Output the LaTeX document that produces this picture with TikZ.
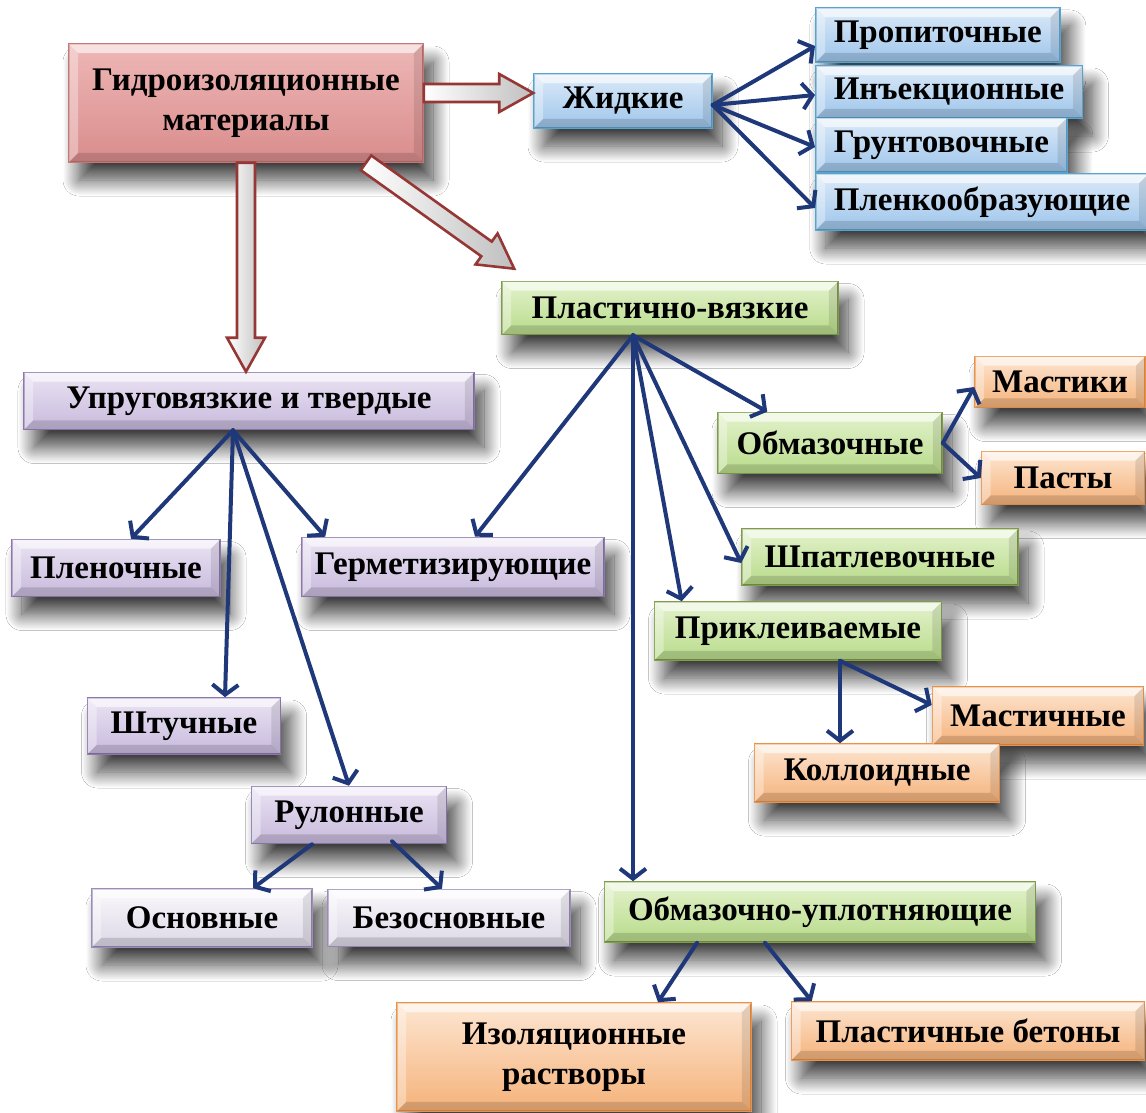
\documentclass[tikz,border=0pt]{standalone}
\usepackage{fontspec}
\setmainfont{Liberation Serif}
\usetikzlibrary{arrows.meta,calc,shadows.blur}

\definecolor{linkblue}{RGB}{31,56,122}
\definecolor{fatline}{RGB}{149,55,53}
\definecolor{pinktop}{RGB}{237,183,182}
\definecolor{pinkbot}{RGB}{217,141,140}
\definecolor{pinkline}{RGB}{197,118,117}
\definecolor{bluetop}{RGB}{220,234,248}
\definecolor{bluebot}{RGB}{158,197,235}
\definecolor{blueline}{RGB}{90,163,207}
\definecolor{greentop}{RGB}{227,242,204}
\definecolor{greenbot}{RGB}{184,219,138}
\definecolor{greenline}{RGB}{126,156,74}
\definecolor{violettop}{RGB}{234,227,243}
\definecolor{violetbot}{RGB}{200,186,221}
\definecolor{violetline}{RGB}{140,120,174}
\definecolor{orangetop}{RGB}{253,230,210}
\definecolor{orangebot}{RGB}{245,178,122}
\definecolor{orangeline}{RGB}{232,146,74}
\definecolor{paletop}{RGB}{250,249,252}
\definecolor{palebot}{RGB}{220,215,230}
\definecolor{paleline}{RGB}{156,141,184}

\tikzset{
  box/.style={rectangle, line width=1.6pt, inner xsep=4pt, inner ysep=2pt,
    minimum height=54pt, align=center,
    font=\bfseries\fontsize{33}{40}\selectfont,
    blur shadow={shadow xshift=10pt, shadow yshift=-18pt,
      shadow blur radius=16pt, shadow blur steps=24, shadow opacity=75}},
  pinkbox/.style={box, top color=pinktop, bottom color=pinkbot, draw=pinkline},
  bluebox/.style={box, top color=bluetop, bottom color=bluebot, draw=blueline},
  greenbox/.style={box, top color=greentop, bottom color=greenbot, draw=greenline},
  violetbox/.style={box, top color=violettop, bottom color=violetbot, draw=violetline},
  orangebox/.style={box, top color=orangetop, bottom color=orangebot, draw=orangeline},
  palebox/.style={box, top color=paletop, bottom color=palebot, draw=paleline},
  stepbox/.style={bluebox, anchor=west, inner xsep=18pt},
  link/.style={draw=linkblue, line width=4pt, line cap=round,
    -{Straight Barb[length=10pt,width=26pt]}},
  fatarrow/.style={draw=fatline, line width=2.6pt, line join=miter,
    left color=white, right color=gray!50}
}

% light and dark bevel edges inside node #1
\newcommand\bevel[1]{%
  \fill[white,opacity=.6] ([shift={(1pt,-1pt)}]#1.north west) -- ([shift={(-1pt,-1pt)}]#1.north east)
    -- ([shift={(-10pt,-10pt)}]#1.north east) -- ([shift={(10pt,-10pt)}]#1.north west) -- cycle;
  \fill[white,opacity=.35] ([shift={(1pt,-1pt)}]#1.north west) -- ([shift={(10pt,-10pt)}]#1.north west)
    -- ([shift={(10pt,10pt)}]#1.south west) -- ([shift={(1pt,1pt)}]#1.south west) -- cycle;
  \fill[black,opacity=.1] ([shift={(-1pt,-1pt)}]#1.north east) -- ([shift={(-10pt,-10pt)}]#1.north east)
    -- ([shift={(-10pt,10pt)}]#1.south east) -- ([shift={(-1pt,1pt)}]#1.south east) -- cycle;
  \fill[black,opacity=.14] ([shift={(1pt,1pt)}]#1.south west) -- ([shift={(10pt,10pt)}]#1.south west)
    -- ([shift={(-10pt,10pt)}]#1.south east) -- ([shift={(-1pt,1pt)}]#1.south east) -- cycle;
}

% hollow double arrow from #1 to #2
\newcommand\fatarrow[2]{%
  \coordinate (fa-s) at (#1);
  \coordinate (fa-e) at (#2);
  \coordinate (fa-b) at ($(fa-e)!34pt!(fa-s)$);
  \draw[fatarrow] ($(fa-s)!9pt!90:(fa-e)$) -- ($(fa-b)!9pt!-90:(fa-s)$)
    -- ($(fa-b)!19pt!-90:(fa-s)$) -- (fa-e) -- ($(fa-b)!19pt!90:(fa-s)$)
    -- ($(fa-b)!9pt!90:(fa-s)$) -- ($(fa-s)!9pt!-90:(fa-e)$) -- cycle;
}

\begin{document}
\begin{tikzpicture}[x=1pt,y=-1pt]
  \useasboundingbox[fill=white] (0,0) rectangle (1146,1113);

  % top level
  \node[pinkbox, minimum width=354pt, minimum height=118pt] (main) at (246,103)
    {Гидроизоляционные\\материалы};
  \node[bluebox, minimum width=178pt] (liquid) at (623,101) {Жидкие};
  \node[stepbox, minimum height=54pt] (imp) at (815,35) {Пропиточные};
  \node[stepbox, minimum height=52pt] (inj) at (815,92) {Инъекционные};
  \node[stepbox, minimum height=54pt] (prim) at (815,145) {Грунтовочные};
  \node[stepbox, minimum height=56pt] (film) at (815,202) {Пленкообразующие};

  % elastic branch
  \node[violetbox, minimum width=450pt, minimum height=57pt] (elastic) at (249,401)
    {Упруговязкие и твердые};
  \node[violetbox, minimum width=208pt, minimum height=57pt] (filmy) at (116,568) {Пленочные};
  \node[violetbox, minimum width=302pt, minimum height=59pt] (seal) at (453,567) {Герметизирующие};
  \node[violetbox, minimum width=193pt, minimum height=56pt] (piece) at (184,726) {Штучные};
  \node[violetbox, minimum width=195pt, minimum height=57pt] (roll) at (349,815) {Рулонные};
  \node[palebox, minimum width=220pt, minimum height=58pt] (based) at (202,918) {Основные};
  \node[palebox, minimum width=242pt, minimum height=57pt] (nobase) at (449,918) {Безосновные};

  % plastic branch
  \node[greenbox, minimum width=336pt, minimum height=53pt] (plastic) at (670,308)
    {Пластично-вязкие};
  \node[greenbox, minimum width=224pt, minimum height=61pt] (coat) at (830,443) {Обмазочные};
  \node[orangebox, minimum width=170pt, minimum height=51pt] (mastic) at (1060,382) {Мастики};
  \node[orangebox, minimum width=163pt, minimum height=53pt] (paste) at (1063,478) {Пасты};
  \node[greenbox, minimum width=276pt, minimum height=56pt] (putty) at (880,557) {Шпатлевочные};
  \node[greenbox, minimum width=287pt, minimum height=58pt] (glue) at (798,631) {Приклеиваемые};
  \node[orangebox, minimum width=211pt, minimum height=58pt] (mastichn) at (1038,716) {Мастичные};
  \node[orangebox, minimum width=245pt, minimum height=58pt] (colloid) at (877,773) {Коллоидные};
  \node[greenbox, minimum width=431pt, minimum height=60pt] (sealing) at (820,912)
    {Обмазочно-уплотняющие};
  \node[orangebox, minimum width=354pt, minimum height=108pt] (mortar) at (574,1057)
    {Изоляционные\\растворы};
  \node[orangebox, minimum width=353pt, minimum height=58pt] (concrete) at (968,1031)
    {Пластичные бетоны};

  \foreach \n in {main,liquid,imp,inj,prim,film,elastic,filmy,seal,piece,roll,based,
      nobase,plastic,coat,mastic,paste,putty,glue,mastichn,colloid,sealing,mortar,concrete}
    {\bevel{\n}}

  % hollow arrows from the root
  \fatarrow{[yshift=10pt]main.east}{[yshift=8pt]liquid.west}
  \fatarrow{main.south}{main.south |- elastic.north}
  \fatarrow{[xshift=120pt]main.south}{[xshift=13pt,yshift=12pt]plastic.north west}

  % fans
  \coordinate (liq-o) at ([yshift=-4pt]liquid.east);
  \foreach \t/\s in {imp/-11pt, inj/-3pt, prim/-2pt, film/-6pt}
    \draw[link] (liq-o) -- ([yshift=\s]\t.west);

  \coordinate (ela-o) at ([xshift=-16pt]elastic.south);
  \draw[link] (ela-o) -- ([xshift=15pt]filmy.north);
  \draw[link] (ela-o) -- ([xshift=24pt]seal.north west);
  \draw[link] (ela-o) -- ([xshift=41pt]piece.north);
  \draw[link] (ela-o) -- (roll.north);

  \coordinate (pla-o) at ([xshift=-37pt]plastic.south);
  \draw[link] (pla-o) -- ([xshift=22pt]seal.north);
  \draw[link] (pla-o) -- (pla-o |- sealing.north);
  \draw[link] (pla-o) -- ([xshift=28pt]glue.north west);
  \draw[link] (pla-o) -- ([yshift=-6pt]putty.west);
  \draw[link] (pla-o) -- ([xshift=50pt]coat.north west);

  \draw[link] (coat.east) -- ([yshift=-5pt]mastic.west);
  \draw[link] (coat.east) -- (paste.west);

  \coordinate (glu-o) at ([xshift=42pt]glue.south);
  \draw[link] (glu-o) -- (glu-o |- colloid.north);
  \draw[link] (glu-o) -- ([yshift=11pt]mastichn.west);

  \draw[link] ([xshift=-37pt]roll.south) -- ([xshift=51pt]based.north);
  \draw[link] ([xshift=43pt,yshift=3pt]roll.south) -- ([xshift=-7pt]nobase.north);

  \draw[link] ([xshift=-123pt]sealing.south) -- ([xshift=84pt]mortar.north);
  \draw[link] ([xshift=-55pt]sealing.south) -- ([xshift=21pt]concrete.north west);
\end{tikzpicture}
\end{document}
